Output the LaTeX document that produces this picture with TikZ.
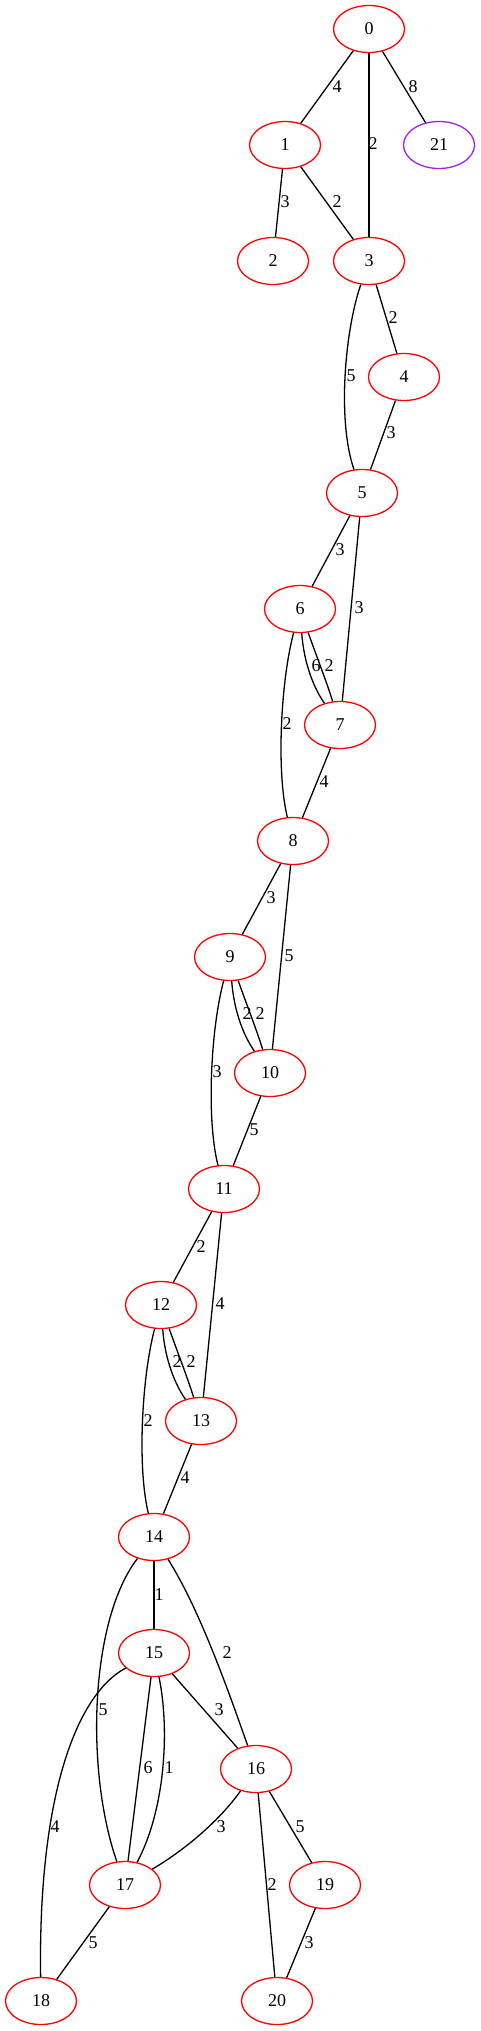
\documentclass[tikz,border=0pt]{standalone}
\usepackage{fontspec}
\setmainfont{Liberation Serif}
\usetikzlibrary{shapes.geometric}
\definecolor{gvpurple}{HTML}{A020F0}
\begin{document}
\begin{tikzpicture}[x=1pt,y=-1pt,
  vtx/.style={ellipse, draw=red, line width=1.3pt, minimum width=71pt, minimum height=47pt, inner sep=0pt, font=\fontsize{18}{20}\selectfont},
  lnk/.style={line width=1.3pt, black},
  lbl/.style={font=\fontsize{18}{20}\selectfont, inner sep=0pt}]
\useasboundingbox (0,0) rectangle (480,2031);
% nodes
\node[vtx] (n0) at (369,29) {0};
\node[vtx] (n1) at (285,145) {1};
\node[vtx, draw=gvpurple] (n21) at (439,145) {21};
\node[vtx] (n2) at (273,261) {2};
\node[vtx] (n3) at (369,261) {3};
\node[vtx] (n4) at (404,377) {4};
\node[vtx] (n5) at (362,493) {5};
\node[vtx] (n6) at (300,609) {6};
\node[vtx] (n7) at (340,725) {7};
\node[vtx] (n8) at (293,841) {8};
\node[vtx] (n9) at (230,957) {9};
\node[vtx] (n10) at (270,1073) {10};
\node[vtx] (n11) at (224,1189) {11};
\node[vtx] (n12) at (161,1305) {12};
\node[vtx] (n13) at (201,1421) {13};
\node[vtx] (n14) at (154,1537) {14};
\node[vtx] (n15) at (154,1653) {15};
\node[vtx] (n16) at (256,1769) {16};
\node[vtx] (n17) at (125,1885) {17};
\node[vtx] (n19) at (325,1885) {19};
\node[vtx] (n18) at (41,2001) {18};
\node[vtx] (n20) at (277,2001) {20};
% edges
\draw[lnk] (n0) -- (n1);
\draw[lnk] (n0) -- (n3);
\draw[lnk] (n0) -- (n21);
\draw[lnk] (n1) -- (n2);
\draw[lnk] (n1) -- (n3);
\draw[lnk] (n3) .. controls (345,330) and (337,420) .. (n5);
\draw[lnk] (n3) -- (n4);
\draw[lnk] (n4) -- (n5);
\draw[lnk] (n5) -- (n6);
\draw[lnk] (n5) -- (n7);
\draw[lnk] (n6) .. controls (304,665) and (315,690) .. (n7);
\draw[lnk] (n6) .. controls (316,655) and (326,680) .. (n7);
\draw[lnk] (n6) .. controls (281,680) and (276,770) .. (n8);
\draw[lnk] (n7) -- (n8);
\draw[lnk] (n8) -- (n9);
\draw[lnk] (n8) -- (n10);
\draw[lnk] (n9) .. controls (234,1013) and (245,1038) .. (n10);
\draw[lnk] (n9) .. controls (246,1003) and (256,1028) .. (n10);
\draw[lnk] (n9) .. controls (211,1028) and (206,1118) .. (n11);
\draw[lnk] (n10) -- (n11);
\draw[lnk] (n11) -- (n12);
\draw[lnk] (n11) -- (n13);
\draw[lnk] (n12) .. controls (165,1361) and (176,1386) .. (n13);
\draw[lnk] (n12) .. controls (177,1351) and (187,1376) .. (n13);
\draw[lnk] (n12) .. controls (142,1376) and (137,1466) .. (n14);
\draw[lnk] (n13) -- (n14);
\draw[lnk] (n14) -- (n15);
\draw[lnk] (n14) .. controls (200,1610) and (228,1690) .. (n16);
\draw[lnk] (n14) .. controls (90,1620) and (85,1770) .. (n17);
\draw[lnk] (n15) -- (n16);
\draw[lnk] (n15) -- (n17);
\draw[lnk] (n15) .. controls (170,1730) and (165,1810) .. (n17);
\draw[lnk] (n15) .. controls (75,1695) and (38,1800) .. (n18);
\draw[lnk] (n16) .. controls (220,1820) and (185,1850) .. (n17);
\draw[lnk] (n16) -- (n19);
\draw[lnk] (n16) -- (n20);
\draw[lnk] (n17) -- (n18);
\draw[lnk] (n19) -- (n20);
% edge labels
\node[lbl] (l01) at (337,87) {4};
\node[lbl] (l03) at (373,144) {2};
\node[lbl] (l021) at (413,87) {8};
\node[lbl] (l12) at (285,202) {3};
\node[lbl] (l13) at (337,202) {2};
\node[lbl] (l35) at (351,376) {5};
\node[lbl] (l34) at (393,318) {2};
\node[lbl] (l45) at (391,433) {3};
\node[lbl] (l56) at (340,550) {3};
\node[lbl] (l57) at (359,608) {3};
\node[lbl] (l67a) at (316,666) {6};
\node[lbl] (l67b) at (329,666) {2};
\node[lbl] (l68) at (287,724) {2};
\node[lbl] (l78) at (324,782) {4};
\node[lbl] (l89) at (271,898) {3};
\node[lbl] (l810) at (289,956) {5};
\node[lbl] (l910a) at (247,1014) {2};
\node[lbl] (l910b) at (260,1014) {2};
\node[lbl] (l911) at (217,1072) {3};
\node[lbl] (l1011) at (254,1130) {5};
\node[lbl] (l1112) at (201,1247) {2};
\node[lbl] (l1113) at (220,1304) {4};
\node[lbl] (l1213a) at (177,1362) {2};
\node[lbl] (l1213b) at (191,1362) {2};
\node[lbl] (l1214) at (148,1421) {2};
\node[lbl] (l1314) at (185,1478) {4};
\node[lbl] (l1415) at (159,1595) {1};
\node[lbl] (l1416) at (227,1653) {2};
\node[lbl] (l1417) at (103,1710) {5};
\node[lbl] (l1516) at (219,1710) {3};
\node[lbl] (l1517a) at (148,1768) {6};
\node[lbl] (l1517b) at (169,1768) {1};
\node[lbl] (l1518) at (55,1827) {4};
\node[lbl] (l1617) at (221,1827) {3};
\node[lbl] (l1619) at (300,1827) {5};
\node[lbl] (l1620) at (272,1885) {2};
\node[lbl] (l1718) at (93,1943) {5};
\node[lbl] (l1920) at (309,1943) {3};
\end{tikzpicture}
\end{document}
